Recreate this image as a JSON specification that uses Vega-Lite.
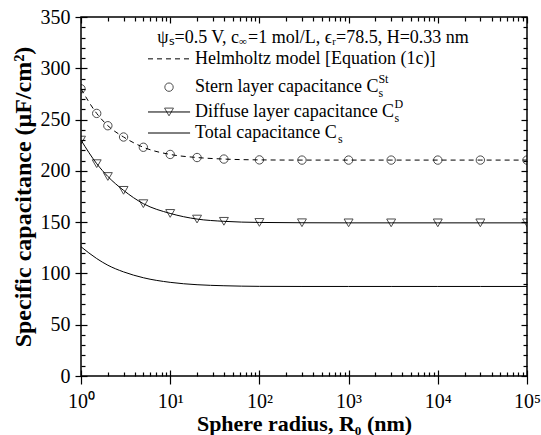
{
  "$schema": "https://vega.github.io/schema/vega-lite/v6.json",
  "width": 446,
  "height": 359,
  "autosize": {"type": "none"},
  "padding": {"left": 81, "top": 17, "right": 14, "bottom": 59},
  "background": "white",
  "config": {
    "font": "Liberation Serif",
    "view": {"stroke": "#000", "strokeWidth": 1.5},
    "axis": {"grid": false, "domain": false, "tickColor": "#000", "tickWidth": 1.2, "labelColor": "#000", "titleColor": "#000", "labelFlush": false, "labelOverlap": false, "labelBound": false},
    "text": {"color": "#000"}
  },
  "datasets": {
    "helmholtz": [
      {"R": 1, "C": 280}, {"R": 1.5, "C": 256}, {"R": 2, "C": 244}, {"R": 3, "C": 233}, {"R": 5, "C": 223},
      {"R": 10, "C": 216}, {"R": 20, "C": 213}, {"R": 40, "C": 211.5}, {"R": 100, "C": 210.7}, {"R": 300, "C": 210.5},
      {"R": 1000, "C": 210.5}, {"R": 3000, "C": 210.5}, {"R": 10000, "C": 210.5}, {"R": 30000, "C": 210.5}, {"R": 100000, "C": 210.5}
    ],
    "stern": [
      {"R": 1, "C": 280}, {"R": 1.5, "C": 256}, {"R": 2, "C": 244}, {"R": 3, "C": 233}, {"R": 5, "C": 223},
      {"R": 10, "C": 216}, {"R": 20, "C": 213}, {"R": 40, "C": 211.5}, {"R": 100, "C": 210.7}, {"R": 300, "C": 210.5},
      {"R": 1000, "C": 210.5}, {"R": 3000, "C": 210.5}, {"R": 10000, "C": 210.5}, {"R": 30000, "C": 210.5}, {"R": 100000, "C": 210.5}
    ],
    "diffuse": [
      {"R": 1, "C": 230}, {"R": 1.5, "C": 207}, {"R": 2, "C": 194.5}, {"R": 3, "C": 181}, {"R": 5, "C": 168},
      {"R": 10, "C": 158.5}, {"R": 20, "C": 153}, {"R": 40, "C": 150.8}, {"R": 100, "C": 149.7}, {"R": 300, "C": 149.4},
      {"R": 1000, "C": 149.3}, {"R": 3000, "C": 149.3}, {"R": 10000, "C": 149.3}, {"R": 30000, "C": 149.3}, {"R": 100000, "C": 149.3}
    ],
    "total": [
      {"R": 1, "C": 126}, {"R": 1.5, "C": 114.5}, {"R": 2, "C": 108}, {"R": 3, "C": 101.5}, {"R": 5, "C": 95.8},
      {"R": 10, "C": 91.3}, {"R": 20, "C": 89}, {"R": 40, "C": 88}, {"R": 100, "C": 87.4}, {"R": 300, "C": 87.3},
      {"R": 1000, "C": 87.3}, {"R": 3000, "C": 87.3}, {"R": 10000, "C": 87.3}, {"R": 30000, "C": 87.3}, {"R": 100000, "C": 87.3}
    ],
    "legendHead": [
      {"R": 59.1, "C": 329.5, "label": "ψₛ=0.5 V, c"}
    ],
    "legendInf": [
      {"R": 59.1, "C": 329.5, "label": "∞"}
    ],
    "legendText": [
      {"R": 74.5, "C": 329.5, "label": "=1 mol/L, ϵᵣ=78.5, H=0.33 nm"},
      {"R": 19, "C": 309.2, "label": "Helmholtz model [Equation (1c)]"},
      {"R": 19, "C": 281.6, "label": "Stern layer capacitance C"},
      {"R": 19, "C": 257.4, "label": "Diffuse layer capacitance C"},
      {"R": 19, "C": 236.9, "label": "Total capacitance C"}
    ],
    "legendSub": [
      {"R": 2159, "C": 281.6, "label": "s"},
      {"R": 3262, "C": 257.4, "label": "s"},
      {"R": 760, "C": 236.9, "label": "s"}
    ],
    "legendSup": [
      {"R": 2159, "C": 281.6, "label": "St"},
      {"R": 3262, "C": 257.4, "label": "D"}
    ],
    "legendDash": [{"R": 5.64, "C": 309.2}, {"R": 16.7, "C": 309.2}],
    "legendSolid": [
      {"R": 5.64, "C": 257.4, "k": "D"}, {"R": 16.7, "C": 257.4, "k": "D"},
      {"R": 5.64, "C": 236.9, "k": "T"}, {"R": 16.7, "C": 236.9, "k": "T"}
    ],
    "legendCircle": [{"R": 9.7, "C": 281.6}],
    "legendTri": [{"R": 9.7, "C": 257.4}]
  },
  "layer": [
    {
      "data": {"name": "helmholtz"},
      "mark": {"type": "line", "interpolate": "monotone", "color": "#000", "strokeWidth": 1, "strokeDash": [5, 4]},
      "encoding": {
        "x": {"field": "R", "type": "quantitative", "scale": {"type": "log", "domain": [1, 100000], "nice": false},
          "axis": {"orient": "bottom", "values": [1, 10, 100, 1000, 10000, 100000], "offset": -6, "tickSize": 14,
            "labelExpr": "datum.value < 5 ? '10⁰' : datum.value < 50 ? '10¹' : datum.value < 500 ? '10²' : datum.value < 5000 ? '10³' : datum.value < 50000 ? '10⁴' : '10⁵'",
            "labelFontSize": 20, "labelPadding": 7, "title": "Sphere radius, R₀ (nm)", "titleFontSize": 22, "titleFontWeight": "bold", "titlePadding": 2}},
        "y": {"field": "C", "type": "quantitative", "scale": {"domain": [0, 350], "nice": false, "zero": false},
          "axis": {"orient": "left", "values": [0, 50, 100, 150, 200, 250, 300, 350], "offset": -6, "tickSize": 12,
            "labelFontSize": 20, "labelPadding": 5, "title": "Specific capacitance (μF/cm²)", "titleFontSize": 24, "titleFontWeight": "bold", "titlePadding": 5}}
      }
    },
    {
      "data": {"name": "stern"},
      "mark": {"type": "point", "shape": "circle", "filled": false, "size": 70, "color": "#000", "strokeWidth": 1, "clip": true},
      "encoding": {
        "x": {"field": "R", "type": "quantitative", "scale": {"type": "log", "domain": [1, 100000], "nice": false},
          "axis": {"orient": "bottom", "values": [2,3,4,5,6,7,8,9,20,30,40,50,60,70,80,90,200,300,400,500,600,700,800,900,2000,3000,4000,5000,6000,7000,8000,9000,20000,30000,40000,50000,60000,70000,80000,90000], "offset": -4, "tickSize": 4, "labels": false, "title": null}},
        "y": {"field": "C", "type": "quantitative", "scale": {"domain": [0, 350], "nice": false, "zero": false},
          "axis": {"orient": "left", "values": [10,20,30,40,60,70,80,90,110,120,130,140,160,170,180,190,210,220,230,240,260,270,280,290,310,320,330,340], "offset": -4, "tickSize": 4, "labels": false, "title": null}}
      }
    },
    {
      "data": {"name": "diffuse"},
      "mark": {"type": "line", "interpolate": "monotone", "color": "#000", "strokeWidth": 1},
      "encoding": {
        "x": {"field": "R", "type": "quantitative", "scale": {"type": "log", "domain": [1, 100000], "nice": false},
          "axis": {"orient": "top", "values": [1, 10, 100, 1000, 10000, 100000], "offset": -6, "tickSize": 6, "labels": false, "title": null}},
        "y": {"field": "C", "type": "quantitative", "scale": {"domain": [0, 350], "nice": false, "zero": false},
          "axis": {"orient": "right", "values": [0, 50, 100, 150, 200, 250, 300, 350], "offset": -6, "tickSize": 6, "labels": false, "title": null}}
      }
    },
    {
      "data": {"name": "diffuse"},
      "mark": {"type": "point", "shape": "triangle-down", "filled": false, "size": 80, "color": "#000", "strokeWidth": 1, "clip": true},
      "encoding": {
        "x": {"field": "R", "type": "quantitative", "scale": {"type": "log", "domain": [1, 100000], "nice": false},
          "axis": {"orient": "top", "values": [2,3,4,5,6,7,8,9,20,30,40,50,60,70,80,90,200,300,400,500,600,700,800,900,2000,3000,4000,5000,6000,7000,8000,9000,20000,30000,40000,50000,60000,70000,80000,90000], "offset": -4, "tickSize": 4, "labels": false, "title": null}},
        "y": {"field": "C", "type": "quantitative", "scale": {"domain": [0, 350], "nice": false, "zero": false},
          "axis": {"orient": "right", "values": [10,20,30,40,60,70,80,90,110,120,130,140,160,170,180,190,210,220,230,240,260,270,280,290,310,320,330,340], "offset": -4, "tickSize": 4, "labels": false, "title": null}}
      }
    },
    {
      "data": {"name": "total"},
      "mark": {"type": "line", "interpolate": "monotone", "color": "#000", "strokeWidth": 1},
      "encoding": {
        "x": {"field": "R", "type": "quantitative", "scale": {"type": "log", "domain": [1, 100000], "nice": false}, "axis": null},
        "y": {"field": "C", "type": "quantitative", "scale": {"domain": [0, 350], "nice": false, "zero": false}, "axis": null}
      }
    },
    {
      "data": {"name": "legendDash"},
      "mark": {"type": "line", "color": "#000", "strokeWidth": 1, "strokeDash": [5, 4]},
      "encoding": {
        "x": {"field": "R", "type": "quantitative", "scale": {"type": "log", "domain": [1, 100000], "nice": false}, "axis": null},
        "y": {"field": "C", "type": "quantitative", "scale": {"domain": [0, 350], "nice": false, "zero": false}, "axis": null}
      }
    },
    {
      "data": {"name": "legendSolid"},
      "mark": {"type": "line", "color": "#000", "strokeWidth": 1},
      "encoding": {
        "x": {"field": "R", "type": "quantitative", "scale": {"type": "log", "domain": [1, 100000], "nice": false}, "axis": null},
        "y": {"field": "C", "type": "quantitative", "scale": {"domain": [0, 350], "nice": false, "zero": false}, "axis": null},
        "detail": {"field": "k", "type": "nominal"}
      }
    },
    {
      "data": {"name": "legendCircle"},
      "mark": {"type": "point", "shape": "circle", "filled": false, "size": 70, "color": "#000", "strokeWidth": 1},
      "encoding": {
        "x": {"field": "R", "type": "quantitative", "scale": {"type": "log", "domain": [1, 100000], "nice": false}, "axis": null},
        "y": {"field": "C", "type": "quantitative", "scale": {"domain": [0, 350], "nice": false, "zero": false}, "axis": null}
      }
    },
    {
      "data": {"name": "legendTri"},
      "mark": {"type": "point", "shape": "triangle-down", "filled": false, "size": 80, "color": "#000", "strokeWidth": 1},
      "encoding": {
        "x": {"field": "R", "type": "quantitative", "scale": {"type": "log", "domain": [1, 100000], "nice": false}, "axis": null},
        "y": {"field": "C", "type": "quantitative", "scale": {"domain": [0, 350], "nice": false, "zero": false}, "axis": null}
      }
    },
    {
      "data": {"name": "legendHead"},
      "mark": {"type": "text", "align": "right", "baseline": "middle", "fontSize": 18, "color": "#000"},
      "encoding": {
        "x": {"field": "R", "type": "quantitative", "scale": {"type": "log", "domain": [1, 100000], "nice": false}, "axis": null},
        "y": {"field": "C", "type": "quantitative", "scale": {"domain": [0, 350], "nice": false, "zero": false}, "axis": null},
        "text": {"field": "label"}
      }
    },
    {
      "data": {"name": "legendInf"},
      "mark": {"type": "text", "align": "left", "baseline": "middle", "fontSize": 11, "dy": 4, "color": "#000"},
      "encoding": {
        "x": {"field": "R", "type": "quantitative", "scale": {"type": "log", "domain": [1, 100000], "nice": false}, "axis": null},
        "y": {"field": "C", "type": "quantitative", "scale": {"domain": [0, 350], "nice": false, "zero": false}, "axis": null},
        "text": {"field": "label"}
      }
    },
    {
      "data": {"name": "legendText"},
      "mark": {"type": "text", "align": "left", "baseline": "middle", "fontSize": 18, "color": "#000"},
      "encoding": {
        "x": {"field": "R", "type": "quantitative", "scale": {"type": "log", "domain": [1, 100000], "nice": false}, "axis": null},
        "y": {"field": "C", "type": "quantitative", "scale": {"domain": [0, 350], "nice": false, "zero": false}, "axis": null},
        "text": {"field": "label"}
      }
    },
    {
      "data": {"name": "legendSub"},
      "mark": {"type": "text", "align": "left", "baseline": "middle", "fontSize": 12, "dy": 6, "color": "#000"},
      "encoding": {
        "x": {"field": "R", "type": "quantitative", "scale": {"type": "log", "domain": [1, 100000], "nice": false}, "axis": null},
        "y": {"field": "C", "type": "quantitative", "scale": {"domain": [0, 350], "nice": false, "zero": false}, "axis": null},
        "text": {"field": "label"}
      }
    },
    {
      "data": {"name": "legendSup"},
      "mark": {"type": "text", "align": "left", "baseline": "middle", "fontSize": 12, "dy": -8, "color": "#000"},
      "encoding": {
        "x": {"field": "R", "type": "quantitative", "scale": {"type": "log", "domain": [1, 100000], "nice": false}, "axis": null},
        "y": {"field": "C", "type": "quantitative", "scale": {"domain": [0, 350], "nice": false, "zero": false}, "axis": null},
        "text": {"field": "label"}
      }
    }
  ],
  "resolve": {"axis": {"x": "independent", "y": "independent"}}
}
